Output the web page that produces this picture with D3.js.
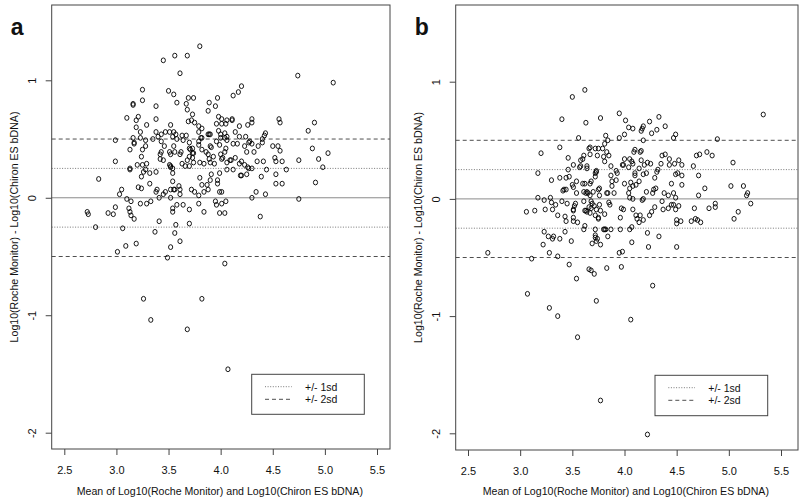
<!DOCTYPE html>
<html><head><meta charset="utf-8">
<script src="https://cdn.jsdelivr.net/npm/d3@7"></script>
<style>body{margin:0;background:#fff}svg{display:block}text{font-family:"Liberation Sans",Arial,Helvetica,sans-serif;fill:#111}</style>
</head><body><svg id="c" width="800" height="502"></svg>
<script>
// ---- data ----
const panelLabels = ["a","b"];
const xTicks = [2.5,3.0,3.5,4.0,4.5,5.0,5.5];
const xTickLabels = ["2.5","3.0","3.5","4.0","4.5","5.0","5.5"];
const yTicks = [-2,-1,0,1];
const yTickLabels = ["-2","-1","0","1"];
const sdOne = 0.25, sdTwo = 0.5;
const legendLabels = ["+/- 1sd","+/- 2sd"];
const xTitle = "Mean of Log10(Roche Monitor) and Log10(Chiron ES bDNA)";
const yTitle = "Log10(Roche Monitor) - Log10(Chiron ES bDNA)";

// [mean, difference]
const pointsA = [[3.80,1.29],[3.56,1.21],[3.68,1.21],[3.45,1.17],[3.61,1.06],[4.74,1.04],[5.08,0.98],[4.20,0.95],[4.17,0.90],[4.12,0.87],[3.25,0.92],[3.50,0.91],[3.55,0.88],[3.69,0.85],[3.74,0.85],[3.97,0.85],[3.25,0.83],[3.16,0.80],[3.16,0.79],[3.58,0.81],[3.67,0.80],[3.89,0.81],[3.95,0.78],[3.38,0.78],[3.88,0.74],[3.68,0.75],[3.73,0.71],[3.10,0.68],[3.21,0.69],[3.38,0.67],[3.19,0.66],[3.69,0.65],[3.72,0.66],[3.98,0.69],[4.01,0.67],[4.06,0.66],[4.11,0.67],[4.11,0.66],[4.30,0.67],[4.30,0.64],[4.26,0.62],[4.18,0.61],[4.56,0.67],[4.57,0.64],[4.90,0.64],[4.84,0.57],[3.29,0.62],[3.19,0.60],[3.75,0.64],[3.79,0.61],[3.52,0.62],[3.96,0.63],[4.01,0.63],[4.05,0.63],[3.23,0.56],[3.38,0.56],[3.43,0.54],[3.47,0.56],[3.51,0.56],[3.55,0.56],[3.57,0.54],[3.63,0.53],[3.67,0.53],[3.79,0.56],[3.82,0.59],[3.88,0.54],[3.89,0.54],[3.98,0.57],[4.00,0.54],[4.04,0.55],[4.06,0.52],[4.04,0.51],[4.14,0.56],[4.18,0.52],[4.24,0.52],[4.28,0.48],[4.30,0.46],[4.43,0.55],[4.42,0.53],[4.40,0.50],[4.40,0.47],[2.99,0.49],[3.16,0.51],[3.17,0.47],[3.23,0.51],[3.28,0.49],[3.35,0.50],[3.40,0.52],[3.43,0.48],[3.54,0.52],[3.58,0.50],[3.64,0.49],[3.70,0.47],[3.79,0.48],[3.81,0.51],[3.82,0.51],[3.90,0.54],[3.96,0.48],[4.00,0.51],[4.06,0.49],[4.12,0.46],[4.16,0.46],[4.23,0.44],[4.27,0.47],[4.50,0.44],[4.55,0.44],[4.57,0.40],[4.88,0.42],[5.03,0.38],[4.94,0.33],[4.75,0.32],[4.52,0.34],[4.53,0.31],[4.59,0.31],[4.63,0.24],[4.98,0.26],[4.91,0.13],[4.75,-0.01],[4.53,0.20],[4.53,0.12],[4.59,0.12],[4.44,0.24],[4.39,0.18],[4.35,0.31],[4.41,0.31],[4.36,0.44],[4.32,0.39],[4.25,0.39],[4.30,0.25],[4.26,0.26],[4.27,0.25],[4.23,0.28],[4.20,0.31],[4.18,0.29],[4.12,0.24],[4.14,0.34],[4.09,0.32],[4.10,0.32],[4.06,0.30],[4.06,0.24],[4.02,0.34],[4.00,0.37],[4.01,0.33],[4.04,0.39],[4.05,0.42],[4.19,0.19],[4.20,0.19],[4.25,0.20],[4.34,0.05],[4.43,0.03],[4.30,0.00],[4.38,-0.16],[4.05,-0.03],[4.04,-0.13],[3.99,0.05],[4.01,0.05],[4.01,-0.05],[3.99,-0.13],[3.96,-0.06],[3.95,-0.03],[4.04,-0.56],[4.07,-1.46],[3.82,-0.86],[3.68,-1.12],[3.33,-1.04],[3.26,-0.86],[3.49,-0.51],[3.52,-0.42],[3.61,-0.37],[3.56,-0.30],[3.37,-0.29],[3.41,-0.20],[3.57,-0.23],[3.70,-0.22],[3.70,-0.10],[3.54,-0.12],[3.54,-0.09],[3.64,-0.06],[3.58,-0.06],[3.52,0.00],[3.79,-0.05],[3.84,-0.12],[3.79,0.02],[3.75,0.05],[3.72,0.07],[3.84,0.05],[3.88,0.07],[3.82,0.11],[3.87,0.11],[3.90,0.15],[3.97,0.15],[3.99,0.21],[3.91,0.20],[3.97,0.12],[3.80,0.17],[3.70,0.27],[3.74,0.30],[3.80,0.30],[3.84,0.29],[3.90,0.30],[3.94,0.29],[3.93,0.35],[3.89,0.33],[3.86,0.39],[3.82,0.41],[3.79,0.45],[3.90,0.44],[3.91,0.43],[3.99,0.45],[3.88,0.37],[3.73,0.42],[3.70,0.42],[3.71,0.41],[3.73,0.38],[3.74,0.38],[3.70,0.35],[3.68,0.32],[3.73,0.34],[3.62,0.39],[3.61,0.37],[3.63,0.29],[3.66,0.27],[3.55,0.44],[3.56,0.39],[3.51,0.39],[3.52,0.37],[3.46,0.44],[3.43,0.39],[3.42,0.37],[3.42,0.33],[3.45,0.32],[3.51,0.28],[3.52,0.27],[3.52,0.26],[3.54,0.21],[3.54,0.25],[3.38,0.22],[3.32,0.21],[3.28,0.24],[3.26,0.22],[3.29,0.29],[3.25,0.28],[3.24,0.18],[3.20,0.28],[3.13,0.25],[3.13,0.24],[3.13,0.41],[3.24,0.35],[3.28,0.44],[3.25,0.41],[3.17,0.46],[2.99,0.31],[2.83,0.16],[3.32,0.12],[3.21,0.09],[3.24,0.08],[3.39,0.07],[3.38,0.05],[3.45,0.03],[3.47,0.05],[3.52,0.07],[3.55,0.07],[3.56,0.07],[3.60,0.10],[3.61,0.07],[3.61,0.03],[3.54,0.14],[3.41,0.00],[3.05,0.07],[3.03,0.03],[3.10,-0.01],[3.14,-0.03],[3.23,-0.05],[3.29,-0.05],[3.33,-0.03],[3.12,-0.09],[3.13,-0.12],[3.14,-0.15],[3.17,-0.18],[2.99,-0.08],[2.92,-0.13],[2.97,-0.14],[2.72,-0.12],[2.73,-0.14],[2.80,-0.25],[3.06,-0.26],[3.09,-0.41],[3.19,-0.39],[3.01,-0.46]];

const pointsB = [[3.62,0.93],[3.50,0.87],[5.33,0.72],[3.95,0.73],[4.33,0.70],[4.24,0.66],[3.40,0.68],[3.63,0.65],[3.77,0.69],[4.01,0.67],[4.04,0.61],[4.08,0.60],[4.18,0.62],[4.17,0.60],[4.31,0.59],[4.26,0.56],[4.39,0.62],[4.16,0.58],[4.49,0.55],[4.47,0.52],[3.82,0.54],[3.84,0.50],[4.00,0.55],[3.95,0.52],[4.18,0.50],[3.56,0.52],[4.89,0.51],[3.38,0.44],[3.20,0.39],[3.67,0.44],[3.66,0.43],[3.72,0.43],[3.75,0.43],[3.79,0.43],[3.83,0.40],[3.85,0.37],[3.80,0.36],[3.74,0.37],[3.67,0.38],[3.61,0.37],[3.60,0.34],[3.58,0.33],[3.58,0.28],[3.57,0.27],[3.46,0.35],[3.51,0.29],[3.46,0.25],[3.64,0.26],[3.73,0.24],[3.72,0.22],[3.81,0.32],[3.87,0.28],[3.92,0.24],[3.98,0.29],[3.99,0.29],[4.00,0.34],[4.05,0.34],[4.07,0.32],[4.08,0.30],[4.04,0.27],[4.09,0.40],[4.10,0.42],[4.15,0.40],[4.16,0.41],[4.16,0.33],[4.22,0.31],[4.25,0.30],[4.19,0.29],[4.14,0.26],[4.10,0.20],[4.10,0.22],[4.18,0.21],[4.21,0.22],[4.14,0.15],[4.11,0.12],[4.08,0.11],[4.06,0.14],[4.00,0.13],[4.05,0.09],[4.04,0.05],[4.05,0.01],[4.08,0.00],[4.18,0.00],[4.17,-0.01],[4.21,0.06],[4.28,0.08],[4.30,0.09],[4.27,0.05],[4.29,0.18],[4.31,0.23],[4.32,0.25],[4.35,0.30],[4.36,0.37],[4.39,0.38],[4.43,0.34],[4.43,0.29],[4.48,0.30],[4.52,0.33],[4.55,0.29],[4.49,0.21],[4.51,0.22],[4.55,0.20],[4.55,0.12],[4.45,0.13],[4.38,0.05],[4.42,0.03],[4.47,0.05],[4.49,0.01],[4.66,0.28],[4.69,0.37],[4.72,0.38],[4.71,0.20],[4.77,0.09],[4.71,0.03],[4.79,0.40],[4.84,0.37],[5.04,0.31],[5.02,0.11],[5.14,0.11],[5.18,0.05],[5.17,0.03],[5.21,-0.04],[5.09,-0.11],[5.05,-0.17],[4.87,-0.04],[4.87,-0.07],[4.81,-0.08],[4.67,-0.08],[4.64,-0.19],[4.68,-0.17],[4.70,-0.18],[4.73,-0.20],[4.54,-0.19],[4.50,-0.18],[4.50,-0.21],[4.50,-0.41],[4.45,-0.05],[4.47,-0.05],[4.52,-0.06],[4.49,-0.09],[4.42,-0.08],[4.36,-0.02],[4.37,-0.09],[4.29,-0.07],[4.26,-0.11],[4.24,-0.14],[4.33,-0.32],[4.22,-0.29],[4.23,-0.41],[4.27,-0.74],[4.22,-2.01],[4.06,-1.03],[4.07,-0.37],[4.05,-0.26],[4.07,-0.24],[3.97,-0.08],[3.99,-0.09],[4.08,-0.09],[4.11,-0.14],[4.12,-0.17],[4.14,-0.20],[4.15,-0.14],[4.18,-0.18],[3.96,-0.16],[3.96,-0.26],[3.95,-0.46],[3.98,-0.45],[3.97,-0.58],[3.83,-0.59],[3.77,-1.72],[3.73,-0.87],[3.66,-0.60],[3.68,-0.61],[3.71,-0.64],[3.54,-0.68],[3.47,-0.56],[3.55,-1.18],[3.36,-1.00],[3.28,-0.93],[3.07,-0.81],[2.69,-0.46],[3.11,-0.51],[3.28,-0.46],[3.36,-0.49],[3.22,-0.39],[3.23,-0.28],[3.27,-0.32],[3.31,-0.34],[3.32,-0.32],[3.38,-0.34],[3.43,-0.28],[3.49,-0.36],[3.06,-0.11],[3.14,-0.10],[3.17,0.01],[3.23,-0.01],[3.24,-0.09],[3.29,0.01],[3.30,-0.03],[3.31,-0.09],[3.34,-0.05],[3.36,-0.14],[3.40,-0.02],[3.41,0.07],[3.42,0.08],[3.44,0.08],[3.43,-0.15],[3.44,-0.19],[3.45,-0.04],[3.30,0.16],[3.17,0.22],[3.38,0.18],[3.44,0.18],[3.47,0.19],[3.50,0.12],[3.54,0.15],[3.51,0.10],[3.54,0.05],[3.52,-0.06],[3.51,-0.09],[3.51,-0.10],[3.51,-0.16],[3.51,-0.19],[3.55,-0.20],[3.53,-0.04],[3.60,0.13],[3.62,0.13],[3.63,0.05],[3.65,0.05],[3.64,0.06],[3.67,0.13],[3.68,0.15],[3.61,0.06],[3.61,-0.02],[3.62,-0.10],[3.63,-0.10],[3.64,-0.11],[3.62,-0.23],[3.61,-0.26],[3.66,-0.07],[3.67,-0.12],[3.68,-0.02],[3.69,-0.04],[3.68,-0.08],[3.71,-0.06],[3.72,-0.14],[3.73,-0.09],[3.75,-0.16],[3.75,-0.17],[3.76,-0.05],[3.76,0.03],[3.75,0.08],[3.76,0.09],[3.72,0.19],[3.73,0.23],[3.70,0.06],[3.67,0.03],[3.72,-0.26],[3.72,-0.33],[3.72,-0.31],[3.74,-0.34],[3.69,-0.38],[3.77,-0.39],[3.73,-0.36],[3.80,-0.26],[3.81,-0.26],[3.82,-0.26],[3.84,-0.32],[3.87,-0.26],[3.81,-0.13],[3.77,-0.10],[3.85,-0.03],[3.86,-0.05],[3.83,0.05],[3.84,0.05],[3.90,0.05],[3.88,0.11],[3.88,0.15],[3.92,0.16],[3.93,0.22],[3.87,0.20],[3.81,0.47],[3.64,0.28]];

// ---- layout ----
const panels = [
  {label: panelLabels[0], pts: pointsA, box:{l:51.7,r:390,t:5,b:449}, xr:[64.3,377], yr:[432.7,80.3],
   leg:{x:251.7,y:374.3,w:112.6,h:40}},
  {label: panelLabels[1], pts: pointsB, box:{l:455.7,r:798,t:5,b:450}, xr:[468,781], yr:[433.3,81.7],
   leg:{x:655,y:375.3,w:112.7,h:40.4}}
];
const dotStyle = {stroke:"#555", w:0.8, dash:"1,1.6"};
const dashStyle = {stroke:"#222", w:0.8, dash:"4,3"};

const svg = d3.select("#c");

panels.forEach(p => {
  const x = d3.scaleLinear().domain([2.5,5.5]).range(p.xr);
  const y = d3.scaleLinear().domain([-2,1]).range(p.yr);
  const g = svg.append("g");
  const B = p.box;

  // reference lines
  const hl = (v, st) => g.append("line").attr("x1",B.l).attr("x2",B.r)
      .attr("y1",y(v)).attr("y2",y(v)).attr("stroke",st.stroke).attr("stroke-width",st.w)
      .attr("stroke-dasharray",st.dash||null);
  hl(0,{stroke:"#8a8a8a",w:1});
  hl(sdOne,dotStyle); hl(-sdOne,dotStyle);
  hl(sdTwo,dashStyle); hl(-sdTwo,dashStyle);

  // points
  g.append("g").selectAll("ellipse").data(p.pts).join("ellipse")
    .attr("cx",d=>x(d[0])).attr("cy",d=>y(d[1])).attr("rx",2.1).attr("ry",2.4)
    .attr("fill","none").attr("stroke","#000").attr("stroke-width",0.9);

  // box
  g.append("rect").attr("x",B.l).attr("y",B.t).attr("width",B.r-B.l).attr("height",B.b-B.t)
    .attr("fill","none").attr("stroke","#444").attr("stroke-width",1);

  // x axis
  const xa = g.append("g").attr("transform",`translate(0,${B.b})`)
    .call(d3.axisBottom(x).tickValues(xTicks).tickSize(6).tickPadding(11)
      .tickFormat((d,i)=>xTickLabels[i]));
  xa.select(".domain").remove();
  xa.selectAll("line").attr("stroke","#444");
  xa.selectAll("text").attr("font-size","11px").attr("fill","#111")
    .attr("font-family","Liberation Sans, Arial, sans-serif");

  // y axis
  const ya = g.append("g").attr("transform",`translate(${B.l},0)`)
    .call(d3.axisLeft(y).tickValues(yTicks).tickSize(6).tickFormat((d,i)=>yTickLabels[i]));
  ya.select(".domain").remove();
  ya.selectAll("line").attr("stroke","#444");
  ya.selectAll(".tick text").attr("font-size","11px").attr("fill","#111")
    .attr("font-family","Liberation Sans, Arial, sans-serif")
    .attr("text-anchor","middle").attr("x",0).attr("dy",0)
    .attr("transform",`translate(-15.7,0) rotate(-90)`);

  // titles
  const cy = (B.t+B.b)/2;
  g.append("text").attr("x",(B.l+B.r)/2 - 1).attr("y",495).attr("text-anchor","middle")
    .attr("font-size","10.6px").text(xTitle);
  g.append("text").attr("transform",`translate(${B.l-34},${cy}) rotate(-90)`)
    .attr("text-anchor","middle").attr("font-size","10.6px").text(yTitle);

  // panel label
  g.append("text").attr("x",B.l-41).attr("y",34.5).attr("font-size","23px")
    .attr("font-weight","bold").text(p.label);

  // legend
  const L = p.leg;
  const lg = g.append("g");
  lg.append("rect").attr("x",L.x).attr("y",L.y).attr("width",L.w).attr("height",L.h)
    .attr("fill","#fff").attr("stroke","#444").attr("stroke-width",1);
  [dotStyle,dashStyle].forEach((st,i)=>{
    const yy = L.y + 12.4 + i*12.6;
    lg.append("line").attr("x1",L.x+13.3).attr("x2",L.x+40).attr("y1",yy).attr("y2",yy)
      .attr("stroke",st.stroke).attr("stroke-width",st.w).attr("stroke-dasharray",st.dash);
    lg.append("text").attr("x",L.x+53.3).attr("y",yy+3.8).attr("font-size","10.5px")
      .text(legendLabels[i]);
  });
});
</script></body></html>
